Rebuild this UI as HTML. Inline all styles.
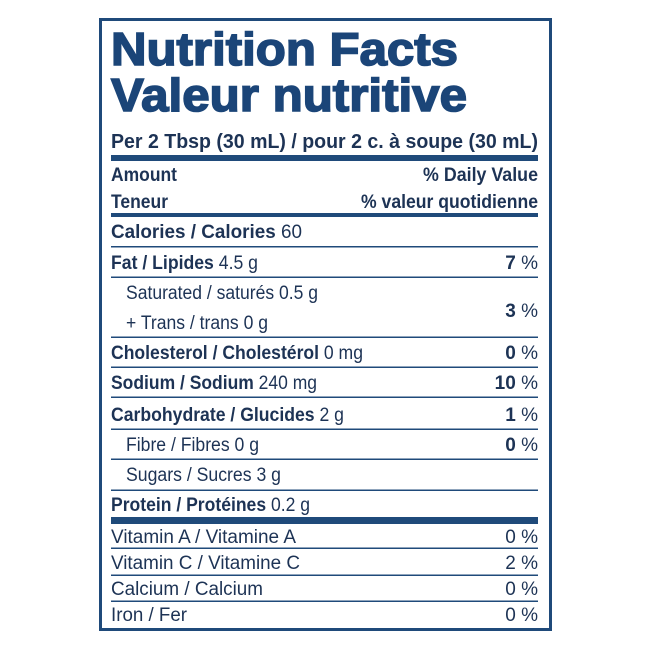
<!DOCTYPE html>
<html><head><meta charset="utf-8"><style>
html,body{margin:0;padding:0;background:#fff;}
svg{display:block;}
text{font-family:"Liberation Sans",Arial,sans-serif;fill:#1d3355;}
.b{font-weight:bold;}
.t{fill:#1b4578;stroke:#1b4578;stroke-width:1.6;}
</style></head><body>
<svg width="650" height="650" viewBox="0 0 650 650" xmlns="http://www.w3.org/2000/svg">
<rect x="100.5" y="19.5" width="450" height="610" fill="none" stroke="#1f4a7a" stroke-width="3"/>
<text x="111" y="65" class="b t" font-size="46" textLength="347" lengthAdjust="spacingAndGlyphs">Nutrition Facts</text>
<text x="111" y="111" class="b t" font-size="46" textLength="356" lengthAdjust="spacingAndGlyphs">Valeur nutritive</text>
<text x="111" y="148" class="b" font-size="20" textLength="427" lengthAdjust="spacingAndGlyphs">Per 2 Tbsp (30 mL) / pour 2 c. à soupe (30 mL)</text>
<rect x="111" y="155" width="427" height="6" fill="#1f4a7a"/>
<text x="111" y="181" class="b" font-size="19" textLength="66" lengthAdjust="spacingAndGlyphs">Amount</text>
<text x="538" y="181" class="b" font-size="19" text-anchor="end" textLength="115" lengthAdjust="spacingAndGlyphs">% Daily Value</text>
<text x="111" y="208" class="b" font-size="19" textLength="57" lengthAdjust="spacingAndGlyphs">Teneur</text>
<text x="538" y="208" class="b" font-size="19" text-anchor="end" textLength="177" lengthAdjust="spacingAndGlyphs">% valeur quotidienne</text>
<rect x="111" y="213" width="427" height="4" fill="#1f4a7a"/>
<text x="111" y="238" font-size="19" textLength="191" lengthAdjust="spacingAndGlyphs"><tspan class="b">Calories / Calories</tspan> 60</text>
<g fill="#1f4a7a">
<rect x="111" y="246" width="427" height="1.5"/>
<rect x="111" y="276.5" width="427" height="1.5"/>
<rect x="111" y="336.5" width="427" height="1.5"/>
<rect x="111" y="366.5" width="427" height="1.5"/>
<rect x="111" y="396.5" width="427" height="1.5"/>
<rect x="111" y="428.5" width="427" height="1.5"/>
<rect x="111" y="458.5" width="427" height="1.5"/>
<rect x="111" y="489.5" width="427" height="1.5"/>
<rect x="111" y="517" width="427" height="7"/>
<rect x="111" y="547.5" width="427" height="1.5"/>
<rect x="111" y="574.5" width="427" height="1.5"/>
<rect x="111" y="600.5" width="427" height="1.5"/>
</g>
<text x="111" y="269" font-size="19" textLength="147" lengthAdjust="spacingAndGlyphs"><tspan class="b">Fat / Lipides</tspan> 4.5 g</text>
<text x="538" y="269" font-size="19" text-anchor="end"><tspan class="b">7</tspan> %</text>
<text x="126" y="299" font-size="19" textLength="192" lengthAdjust="spacingAndGlyphs">Saturated / saturés 0.5 g</text>
<text x="126" y="329" font-size="19" textLength="142" lengthAdjust="spacingAndGlyphs">+ Trans / trans 0 g</text>
<text x="538" y="317" font-size="19" text-anchor="end"><tspan class="b">3</tspan> %</text>
<text x="111" y="359" font-size="19" textLength="252" lengthAdjust="spacingAndGlyphs"><tspan class="b">Cholesterol / Cholestérol</tspan> 0 mg</text>
<text x="538" y="359" font-size="19" text-anchor="end"><tspan class="b">0</tspan> %</text>
<text x="111" y="389" font-size="19" textLength="206" lengthAdjust="spacingAndGlyphs"><tspan class="b">Sodium / Sodium</tspan> 240 mg</text>
<text x="538" y="389" font-size="19" text-anchor="end"><tspan class="b">10</tspan> %</text>
<text x="111" y="421" font-size="19" textLength="233" lengthAdjust="spacingAndGlyphs"><tspan class="b">Carbohydrate / Glucides</tspan> 2 g</text>
<text x="538" y="421" font-size="19" text-anchor="end"><tspan class="b">1</tspan> %</text>
<text x="126" y="451" font-size="19" textLength="133" lengthAdjust="spacingAndGlyphs">Fibre / Fibres 0 g</text>
<text x="538" y="451" font-size="19" text-anchor="end"><tspan class="b">0</tspan> %</text>
<text x="126" y="481" font-size="19" textLength="155" lengthAdjust="spacingAndGlyphs">Sugars / Sucres 3 g</text>
<text x="111" y="511" font-size="19" textLength="199" lengthAdjust="spacingAndGlyphs"><tspan class="b">Protein / Protéines</tspan> 0.2 g</text>
<text x="111" y="543" font-size="19" textLength="185" lengthAdjust="spacingAndGlyphs">Vitamin A / Vitamine A</text>
<text x="538" y="543" font-size="19" text-anchor="end">0 %</text>
<text x="111" y="569" font-size="19" textLength="189" lengthAdjust="spacingAndGlyphs">Vitamin C / Vitamine C</text>
<text x="538" y="569" font-size="19" text-anchor="end">2 %</text>
<text x="111" y="595" font-size="19" textLength="152" lengthAdjust="spacingAndGlyphs">Calcium / Calcium</text>
<text x="538" y="595" font-size="19" text-anchor="end">0 %</text>
<text x="111" y="621" font-size="19" textLength="76" lengthAdjust="spacingAndGlyphs">Iron / Fer</text>
<text x="538" y="621" font-size="19" text-anchor="end">0 %</text>
</svg>
</body></html>
